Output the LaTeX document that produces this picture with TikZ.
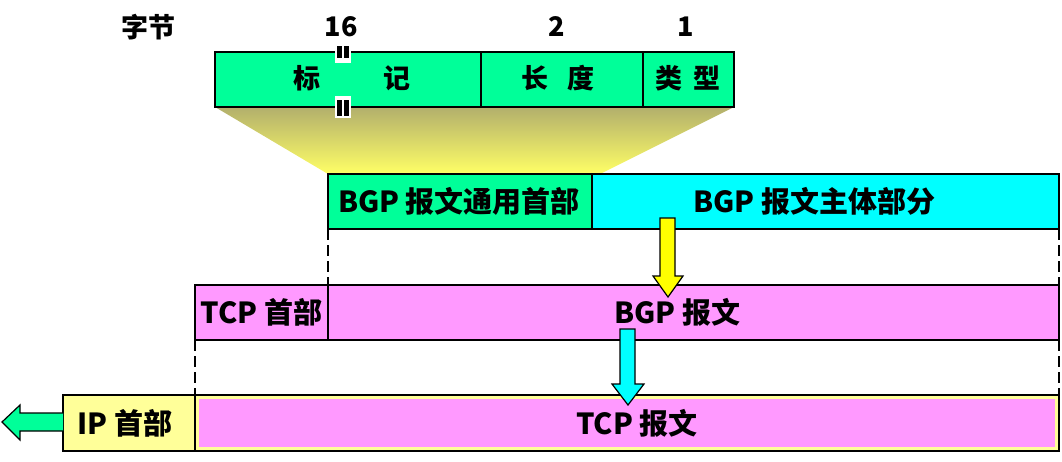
\documentclass[tikz,border=0pt]{standalone}
\usepackage{fontspec}
\setmainfont{Noto Sans CJK SC}
\usetikzlibrary{positioning}
\definecolor{hdrgreen}{RGB}{0,255,153}
\definecolor{bodycyan}{RGB}{0,255,255}
\definecolor{msgpink}{RGB}{255,153,255}
\definecolor{paleyellow}{RGB}{255,255,153}
\definecolor{arrowyellow}{RGB}{255,255,0}
\definecolor{fanolive}{RGB}{178,175,108}
\definecolor{fanyellow}{RGB}{255,255,102}

\begin{document}
\begin{tikzpicture}[
        x=1pt, y=-1pt,
        node distance=0pt,
        box/.style={rectangle, draw=black, line width=1.6pt, inner sep=0pt, outer sep=0pt, minimum height=55pt},
        lbl/.style={font=\bfseries\fontsize{29}{33}\selectfont, inner sep=0pt},
        toplbl/.style={font=\bfseries\fontsize{27}{31}\selectfont, inner sep=0pt},
        dashline/.style={draw=black, line width=2.6pt, dash pattern=on 11pt off 5pt},
        blockarrow/.style={draw=black, line width=1.2pt, line join=miter}
    ]
        \useasboundingbox (0,0) rectangle (1062,461);

        % fan from the header fields down to the common header
        \shade[top color=fanolive, bottom color=fanyellow] (215,107) -- (734,107) -- (600,174) -- (328,174) -- cycle;

        % header fields
        \node[box, fill=hdrgreen, minimum width=266pt, anchor=north west] (marker) at (215,52) {};
        \node[box, fill=hdrgreen, minimum width=162pt, right=of marker] (length) {};
        \node[box, fill=hdrgreen, minimum width=91pt, right=of length] (type) {};
        \node[toplbl] at (352,78) {标\hspace{64pt}记};
        \node[toplbl] at (558,78) {长\hspace{20pt}度};
        \node[toplbl] at (688,78) {类\hspace{12pt}型};

        \node[toplbl] (bytes) at (148,27) {字节};
        \node[toplbl] at (341,27) {16};
        \node[toplbl] at (557,27) {2};
        \node[toplbl] at (686,27) {1};

        % break marks
        \fill[white] (335,45) rectangle (351,63);
        \fill[black] (337,46) rectangle (342,58);
        \fill[black] (344,46) rectangle (349,58);
        \fill[white] (335,96) rectangle (351,118);
        \fill[black] (337,100) rectangle (342,116);
        \fill[black] (344,100) rectangle (349,116);

        % BGP message
        \node[box, fill=hdrgreen, minimum width=264pt, anchor=north west] (common) at (328,174) {};
        \node[box, fill=bodycyan, minimum width=467pt, right=of common] (body) {};
        \node[lbl] at ([xshift=-1pt]common.center) {BGP 报文通用首部};
        \node[lbl] at ([xshift=-11pt]body.center) {BGP 报文主体部分};

        % TCP segment
        \node[box, fill=msgpink, minimum width=133pt, anchor=north west] (tcphdr) at (195,285) {};
        \node[box, fill=msgpink, minimum width=731pt, right=of tcphdr] (bgpmsg) {};
        \node[lbl] at (tcphdr.center) {TCP 首部};
        \node[lbl] at ([xshift=-16pt]bgpmsg.center) {BGP 报文};

        % IP datagram
        \node[box, fill=paleyellow, minimum width=132pt, minimum height=56pt, anchor=north west] (iphdr) at (63,395) {};
        \node[box, fill=paleyellow, minimum width=864pt, minimum height=56pt, right=of iphdr] (tcpmsg) {};
        \fill[msgpink] ([shift={(4pt,-4pt)}]tcpmsg.north west) rectangle ([shift={(-4pt,4pt)}]tcpmsg.south east);
        \node[lbl] at ([xshift=-4pt]iphdr.center) {IP 首部};
        \node[lbl] at ([xshift=10pt]tcpmsg.center) {TCP 报文};

        \draw[dashline] (common.south west) -- (bgpmsg.north west);
        \draw[dashline] (body.south east) -- (bgpmsg.north east);
        \draw[dashline] (tcphdr.south west) -- (tcpmsg.north west);
        \draw[dashline] (bgpmsg.south east) -- (tcpmsg.north east);

        % block arrows
        \filldraw[blockarrow, fill=arrowyellow] (660,218) -- (675,218) -- (675,276) -- (683,276) -- (668,297) -- (653,276) -- (660,276) -- cycle;
        \filldraw[blockarrow, fill=bodycyan] (620,329) -- (635,329) -- (635,384) -- (644,384) -- (628,405) -- (612,384) -- (620,384) -- cycle;
        \fill[hdrgreen] (63,413) -- (20,413) -- (20,405) -- (2,422) -- (20,440) -- (20,431) -- (63,431) -- cycle;
        \draw[blockarrow] (iphdr.west |- 0,413) -- (20,413) -- (20,405) -- (2,422) -- (20,440) -- (20,431) -- (iphdr.west |- 0,431);
    \end{tikzpicture}
\end{document}
